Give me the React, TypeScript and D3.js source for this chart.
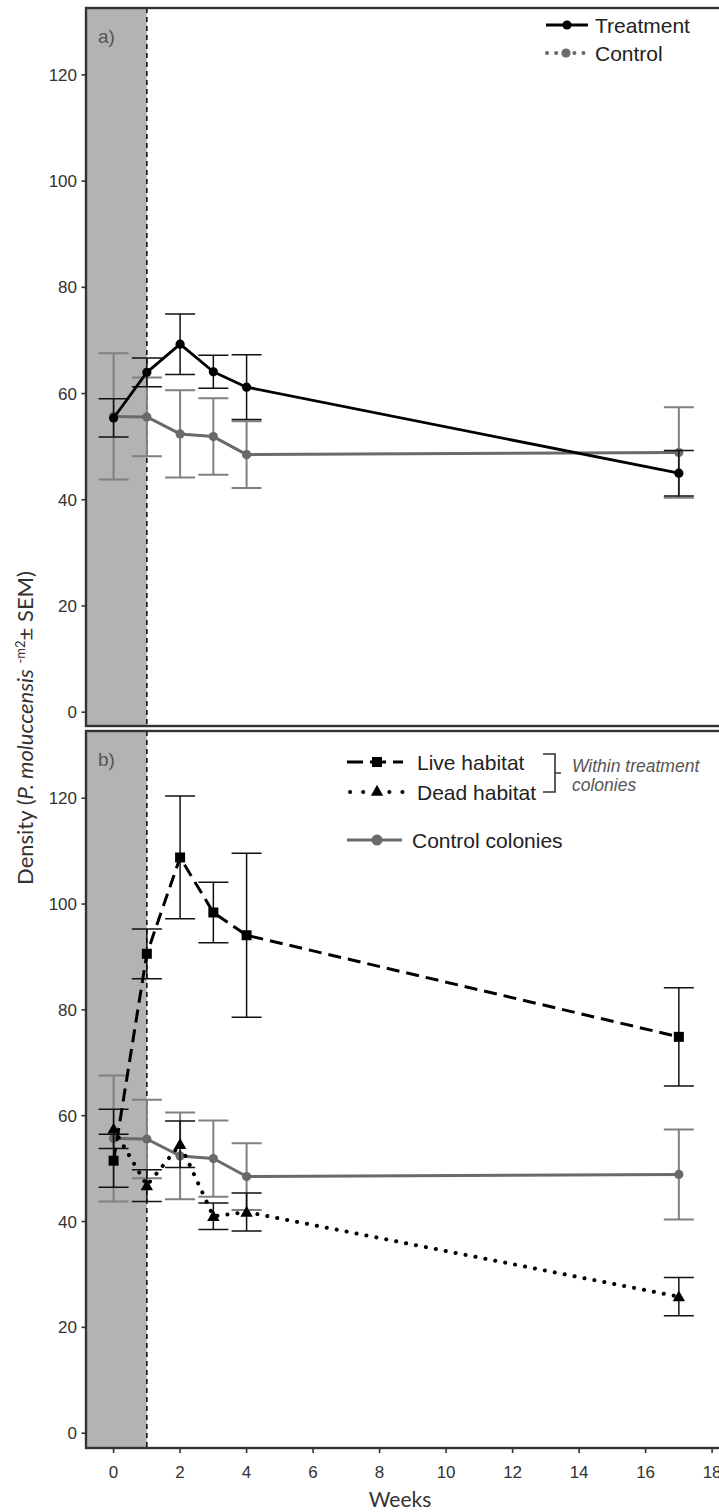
import React from "react";
import * as d3 from "d3";

// sampling weeks
const weeks = [0, 1, 2, 3, 4, 17];

// panel a) whole colonies
const treatmentMean = [55.4, 64.0, 69.3, 64.1, 61.2, 45.0];
const treatmentSem = [3.6, 2.7, 5.7, 3.1, 6.1, 4.3];
const controlMean = [55.7, 55.6, 52.4, 51.9, 48.5, 48.9];
const controlSem = [11.9, 7.4, 8.2, 7.2, 6.3, 8.5];

// panel b) habitat within treatment colonies
const liveMean = [51.5, 90.6, 108.8, 98.4, 94.1, 74.9];
const liveSem = [5.0, 4.7, 11.6, 5.7, 15.5, 9.3];
const deadMean = [57.5, 46.8, 54.6, 41.0, 41.8, 25.8];
const deadSem = [3.7, 3.0, 4.4, 2.5, 3.6, 3.6];

const yTicks = [0, 20, 40, 60, 80, 100, 120];
const xTicks = [0, 2, 4, 6, 8, 10, 12, 14, 16, 18];

const W = 719;
const H = 1512;
const left = 86;
const tickFont = "'Liberation Sans', Arial, sans-serif";
const titleFont = "Lato, 'Open Sans', sans-serif";

const GREY_LINE = "#6a6a6a";
const GREY_BAR = "#808080";

const x = d3.scaleLinear().domain([-0.83, 18.9]).range([left, left + 19.73 * 33.25]);
const yA = d3.scaleLinear().domain([-2.6, 132.6]).range([726, 8]);
const yB = d3.scaleLinear().domain([-2.8, 132.7]).range([1448, 731]);

type Mark = "circle" | "square" | "triangle";

function marker(kind: Mark, cx: number, cy: number, fill: string, key: string) {
  if (kind === "circle") return <circle key={key} cx={cx} cy={cy} r={4.6} fill={fill} />;
  if (kind === "square")
    return <rect key={key} x={cx - 5} y={cy - 5} width={10} height={10} fill={fill} />;
  const s = 6.2;
  return (
    <path
      key={key}
      d={`M${cx},${cy - s} L${cx + s},${cy + s * 0.75} L${cx - s},${cy + s * 0.75}Z`}
      fill={fill}
    />
  );
}

function Series(props: {
  y: d3.ScaleLinear<number, number>;
  mean: number[];
  sem: number[];
  color: string;
  barColor: string;
  width: number;
  barWidth: number;
  dash?: string;
  cap?: "round" | "butt";
  mark: Mark;
}) {
  const { y, mean, sem, color, barColor, width, barWidth, dash, cap, mark } = props;
  const line = d3
    .line<number>()
    .x((_, i) => x(weeks[i]))
    .y((d) => y(d));
  const capHalf = 15;
  return (
    <g>
      <g stroke={barColor} strokeWidth={barWidth} fill="none">
        {mean.map((m, i) => {
          const cx = x(weeks[i]);
          const hi = y(m + sem[i]);
          const lo = y(m - sem[i]);
          return (
            <path
              key={i}
              d={`M${cx},${hi}V${lo}M${cx - capHalf},${hi}H${cx + capHalf}M${cx - capHalf},${lo}H${cx + capHalf}`}
            />
          );
        })}
      </g>
      <path
        d={line(mean) || ""}
        fill="none"
        stroke={color}
        strokeWidth={width}
        strokeDasharray={dash}
        strokeLinecap={cap || "butt"}
        strokeLinejoin="round"
      />
      {mean.map((m, i) => marker(mark, x(weeks[i]), y(m), color, "m" + i))}
    </g>
  );
}

function Panel(props: { y: d3.ScaleLinear<number, number>; top: number; bottom: number; label: string; children: React.ReactNode; xAxis?: boolean }) {
  const { y, top, bottom, label, children, xAxis } = props;
  return (
    <g>
      <rect x={left} y={top} width={x(1) - left} height={bottom - top} fill="#b3b3b3" />
      <line x1={x(1)} x2={x(1)} y1={top} y2={bottom} stroke="#111" strokeWidth={1.6} strokeDasharray="5,4" />
      <text x={98} y={top + 35} fontFamily={tickFont} fontSize={19} fill="#555">
        {label}
      </text>
      {children}
      <rect x={left} y={top} width={720} height={bottom - top} fill="none" stroke="#333" strokeWidth={2.4} />
      {yTicks.map((t) => (
        <g key={t}>
          <line x1={left - 4.5} x2={left} y1={y(t)} y2={y(t)} stroke="#333" strokeWidth={1.6} />
          <text
            x={left - 9}
            y={y(t)}
            dy="0.36em"
            textAnchor="end"
            fontFamily={tickFont}
            fontSize={17}
            fill="#333"
          >
            {t}
          </text>
        </g>
      ))}
      {xAxis &&
        xTicks.map((t) => (
          <g key={t}>
            <line x1={x(t)} x2={x(t)} y1={bottom} y2={bottom + 5} stroke="#333" strokeWidth={1.6} />
            <text x={x(t)} y={bottom + 30} textAnchor="middle" fontFamily={tickFont} fontSize={17} fill="#333">
              {t}
            </text>
          </g>
        ))}
    </g>
  );
}

export default function App() {
  const lg = 377;
  return (
    <div style={{ position: "absolute", left: 0, top: 0 }}>
      <svg width={W} height={H} style={{ display: "block", background: "#fff" }}>
        <rect width={W} height={H} fill="#fff" />

        <Panel y={yA} top={8} bottom={726} label="a)">
          <Series y={yA} mean={controlMean} sem={controlSem} color={GREY_LINE} barColor={GREY_BAR} width={3} barWidth={2} mark="circle" />
          <Series y={yA} mean={treatmentMean} sem={treatmentSem} color="#000" barColor="#111" width={2.8} barWidth={1.5} mark="circle" />
          {/* legend */}
          <line x1={546} x2={588} y1={25} y2={25} stroke="#000" strokeWidth={2.8} />
          <circle cx={567} cy={25} r={4.6} fill="#000" />
          <text x={595} y={33} fontFamily={tickFont} fontSize={21} fill="#222">Treatment</text>
          <line x1={547} x2={584} y1={53} y2={53} stroke={GREY_LINE} strokeWidth={4} strokeDasharray="0.1,9" strokeLinecap="round" />
          <circle cx={566} cy={53} r={4.6} fill={GREY_LINE} />
          <text x={595} y={61} fontFamily={tickFont} fontSize={21} fill="#222">Control</text>
        </Panel>

        <Panel y={yB} top={731} bottom={1448} label="b)" xAxis>
          <Series y={yB} mean={controlMean} sem={controlSem} color={GREY_LINE} barColor={GREY_BAR} width={3} barWidth={2} mark="circle" />
          <Series y={yB} mean={deadMean} sem={deadSem} color="#000" barColor="#111" width={4} barWidth={1.5} dash="0.1,10" cap="round" mark="triangle" />
          <Series y={yB} mean={liveMean} sem={liveSem} color="#000" barColor="#111" width={3} barWidth={1.5} dash="13,7" mark="square" />
          {/* legend */}
          <line x1={347} x2={403} y1={762} y2={762} stroke="#000" strokeWidth={3} strokeDasharray="16,7" />
          {marker("square", lg, 762, "#000", "ls")}
          <text x={417} y={770} fontFamily={tickFont} fontSize={21} fill="#222">Live habitat</text>
          <line x1={350} x2={404} y1={792} y2={792} stroke="#000" strokeWidth={4} strokeDasharray="0.1,13" strokeLinecap="round" />
          {marker("triangle", lg, 791, "#000", "ds")}
          <text x={417} y={800} fontFamily={tickFont} fontSize={21} fill="#222">Dead habitat</text>
          <path d="M543,754H555V792H543M555,773H561" fill="none" stroke="#333" strokeWidth={1.6} />
          <text x={572} y={772} fontFamily={tickFont} fontSize={17.5} fontStyle="italic" fill="#555">Within treatment</text>
          <text x={572} y={791} fontFamily={tickFont} fontSize={17.5} fontStyle="italic" fill="#555">colonies</text>
          <line x1={347} x2={402} y1={840} y2={840} stroke={GREY_LINE} strokeWidth={3} />
          <circle cx={lg} cy={840} r={5.5} fill={GREY_LINE} />
          <text x={412} y={848} fontFamily={tickFont} fontSize={21} fill="#222">Control colonies</text>
        </Panel>

        <text x={400} y={1507} textAnchor="middle" fontFamily={titleFont} fontSize={21} fill="#333">Weeks</text>
        <text transform="translate(33,728) rotate(-90)" textAnchor="middle" fontFamily={titleFont} fontSize={22} fill="#333">
          Density (<tspan fontStyle="italic">P. moluccensis</tspan>{" "}
          <tspan fontSize={13} dy={-8}>-m2</tspan>
          <tspan dy={8}>± SEM)</tspan>
        </text>
      </svg>
    </div>
  );
}
